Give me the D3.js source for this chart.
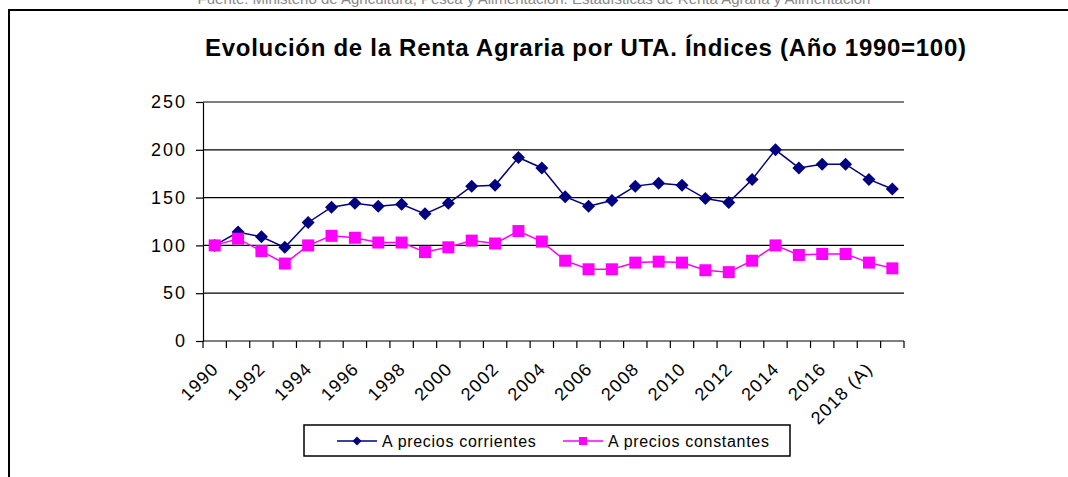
<!DOCTYPE html>
<html>
<head>
<meta charset="utf-8">
<script src="https://cdnjs.cloudflare.com/ajax/libs/d3/7.8.5/d3.min.js"></script>
<style>
  body { margin: 0; background: #fff; }
  svg { display: block; font-family: "Liberation Sans", Arial, sans-serif; }
</style>
</head>
<body>
<div id="chart"></div>
<script>
// Years 1990..2019, label on every other one
var years = ["1990","1991","1992","1993","1994","1995","1996","1997","1998","1999",
             "2000","2001","2002","2003","2004","2005","2006","2007","2008","2009",
             "2010","2011","2012","2013","2014","2015","2016","2017","2018 (A)","2019"];

var corrientes = [100, 114, 109, 98, 124, 140, 144, 141, 143, 133,
                  144, 162, 163, 192, 181, 151, 141, 147, 162, 165,
                  163, 149, 145, 169, 200, 181, 185, 185, 169, 159];

var constantes = [100, 107, 94, 81, 100, 110, 108, 103, 103, 93,
                  98, 105, 102, 115, 104, 84, 75, 75, 82, 83,
                  82, 74, 72, 84, 100, 90, 91, 91, 82, 76];

var yTicks = [0, 50, 100, 150, 200, 250];

var W = 1068, H = 477;
var margin = { top: 102, left: 203, right: 164, bottom: 136 };
var width = W - margin.left - margin.right;
var height = H - margin.top - margin.bottom;

var svg = d3.select("#chart").append("svg")
    .attr("width", W)
    .attr("height", H);

// source line at the very top, cut off by the page edge as in the original
svg.append("text")
    .attr("x", 534)
    .attr("y", 4)
    .attr("text-anchor", "middle")
    .style("font-size", "15px")
    .style("fill", "#888")
    .text("Fuente: Ministerio de Agricultura, Pesca y Alimentación. Estadísticas de Renta Agraria y Alimentación");

// outer frame (runs off the right and bottom)
svg.append("rect")
    .attr("x", 9).attr("y", 10)
    .attr("width", W + 20).attr("height", H + 20)
    .attr("fill", "none")
    .attr("stroke", "#000")
    .attr("stroke-width", 2);

// title
svg.append("text")
    .attr("x", 205)
    .attr("y", 56)
    .attr("textLength", 761)
    .attr("lengthAdjust", "spacing")
    .style("font-size", "24px")
    .style("font-weight", "bold")
    .text("Evolución de la Renta Agraria por UTA. Índices (Año 1990=100)");

var g = svg.append("g")
    .attr("transform", "translate(" + margin.left + "," + margin.top + ")");

var x = d3.scaleBand()
    .domain(years)
    .range([0, width]);

var y = d3.scaleLinear()
    .domain([0, 250])
    .range([height, 0]);

// gridlines
g.selectAll(".grid")
    .data(yTicks.filter(d => d > 0))
    .enter().append("line")
    .attr("x1", 0).attr("x2", width)
    .attr("y1", d => y(d)).attr("y2", d => y(d))
    .attr("stroke", "#000")
    .attr("stroke-width", 1.2);

// y axis
var yAxis = g.append("g")
    .call(d3.axisLeft(y).tickValues(yTicks).tickSize(7).tickSizeOuter(0).tickPadding(9));
yAxis.select(".domain").attr("stroke", "#000").attr("stroke-width", 1.2);
yAxis.selectAll("line").attr("stroke-width", 1.2);
yAxis.selectAll("text")
    .style("font-size", "18px")
    .style("letter-spacing", "2px")
    .style("fill", "#000");

// x axis: ticks between categories
var xg = g.append("g").attr("transform", "translate(0," + height + ")");
xg.append("line")
    .attr("x1", 0).attr("x2", width)
    .attr("stroke", "#000")
    .attr("stroke-width", 1.2);
var bounds = years.map(d => x(d)).concat([width]);
xg.selectAll(".tk")
    .data(bounds)
    .enter().append("line")
    .attr("x1", d => d).attr("x2", d => d)
    .attr("y1", 0).attr("y2", 7)
    .attr("stroke", "#000")
    .attr("stroke-width", 1.2);

xg.selectAll(".lbl")
    .data(years.filter((d, i) => i % 2 === 0))
    .enter().append("text")
    .attr("text-anchor", "end")
    .attr("transform", d => "translate(" + (x(d) + x.bandwidth() / 2 + 5) + ",29) rotate(-45)")
    .style("font-size", "18px")
    .style("letter-spacing", "1.2px")
    .text(d => d);

var cx = d => x(d) + x.bandwidth() / 2;

function diamond(r) {
    return "M0," + (-r) + "L" + r + ",0L0," + r + "L" + (-r) + ",0Z";
}
function square(r) {
    return "M" + (-r) + "," + (-r) + "H" + r + "V" + r + "H" + (-r) + "Z";
}

function drawSeries(values, color, shape, r) {
    var line = d3.line()
        .x((d, i) => cx(years[i]))
        .y(d => y(d));
    g.append("path")
        .datum(values)
        .attr("fill", "none")
        .attr("stroke", color)
        .attr("stroke-width", 1.5)
        .attr("d", line);
    g.selectAll(null)
        .data(values)
        .enter().append("path")
        .attr("transform", (d, i) => "translate(" + cx(years[i]) + "," + y(d) + ")")
        .attr("d", shape(r))
        .attr("fill", color);
}

drawSeries(corrientes, "#000080", diamond, 6.5);
drawSeries(constantes, "#FF00FF", square, 6);

// legend
var lg = svg.append("g").attr("transform", "translate(304,425)");
lg.append("rect")
    .attr("width", 486).attr("height", 31)
    .attr("fill", "#fff")
    .attr("stroke", "#000")
    .attr("stroke-width", 1.5);

var legendItems = [
    { name: "A precios corrientes", color: "#000080", shape: diamond, r: 4.5, x: 33 },
    { name: "A precios constantes", color: "#FF00FF", shape: square, r: 4, x: 259 }
];
legendItems.forEach(function (it) {
    lg.append("line")
        .attr("x1", it.x).attr("x2", it.x + 40)
        .attr("y1", 16).attr("y2", 16)
        .attr("stroke", it.color).attr("stroke-width", 1.5);
    lg.append("path")
        .attr("transform", "translate(" + (it.x + 20) + ",16)")
        .attr("d", it.shape(it.r))
        .attr("fill", it.color);
    lg.append("text")
        .attr("x", it.x + 45)
        .attr("y", 22)
        .style("font-size", "16px")
        .style("letter-spacing", "0.7px")
        .text(it.name);
});
</script>
</body>
</html>
